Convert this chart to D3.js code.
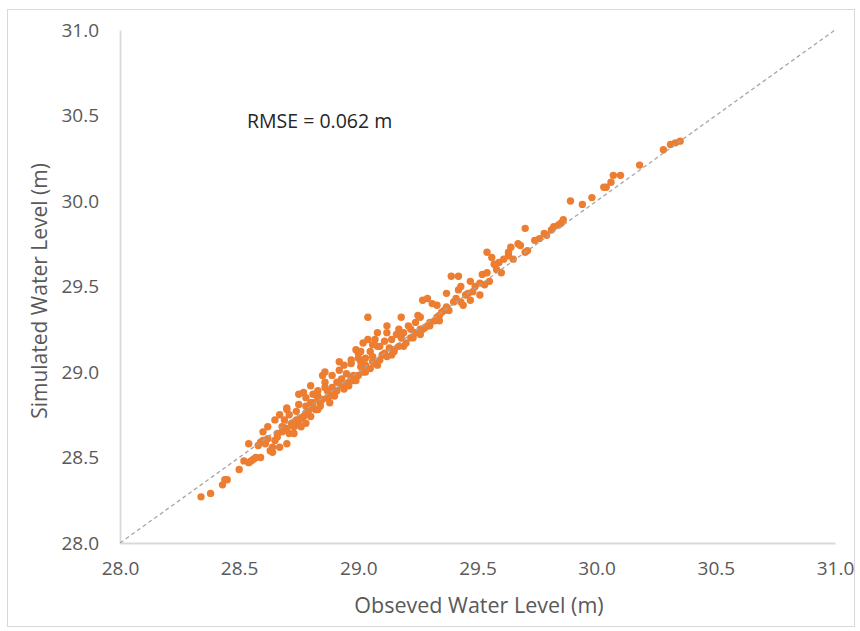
<!DOCTYPE html>
<html>
<head>
<meta charset="utf-8">
<script src="https://cdn.jsdelivr.net/npm/d3@7"></script>
<style>
  html, body { margin: 0; padding: 0; background: #ffffff; }
  svg { display: block; }
</style>
</head>
<body>
<svg id="chart" width="860" height="631"></svg>
<script>
// Observed (x) and simulated (y) water levels, metres
const observed = [
  28.34,28.38,28.43,28.44,28.45,28.50,28.54,28.55,28.56,28.57,28.59,28.54,28.59,28.60,28.63,28.64,28.64,28.67,28.70,28.62,
  28.62,28.66,28.68,28.70,28.71,28.73,28.70,28.71,28.74,28.76,28.78,28.79,28.81,28.83,28.75,28.78,28.77,28.78,28.78,28.80,
  28.83,28.83,28.84,28.85,28.86,28.87,28.87,28.89,28.89,28.90,28.91,28.92,28.92,28.93,28.93,28.95,28.96,28.97,28.98,28.99,
  29.00,29.01,29.02,29.01,29.03,29.03,29.05,29.06,29.06,29.07,29.08,29.09,29.10,29.11,29.12,29.12,29.13,29.14,29.17,29.18,
  29.19,29.22,29.24,29.24,29.27,29.28,29.29,28.82,28.80,28.75,28.76,28.88,29.04,29.18,29.25,29.08,29.27,29.29,29.30,29.32,
  29.31,29.33,29.33,29.35,29.36,29.37,29.37,29.39,29.40,29.41,29.42,29.42,29.43,29.44,29.45,29.46,29.47,29.49,29.51,29.52,
  29.53,29.54,29.55,29.54,29.56,29.59,29.60,29.63,29.63,29.64,29.67,29.68,29.70,29.71,29.70,29.78,29.79,29.82,29.84,29.85,
  29.89,29.94,29.98,30.03,30.04,30.06,30.07,30.10,30.18,30.28,30.31,30.33,30.35,29.26,28.70,28.65,28.67,28.69,28.72,28.74,
  28.75,28.68,28.65,28.60,28.75,28.80,28.81,28.86,28.89,28.94,28.97,29.01,29.04,29.06,29.11,29.14,29.16,29.19,29.21,29.22,
  29.57,29.61,29.74,29.76,29.81,29.86,28.96,28.99,29.03,29.08,29.15,29.26,29.34,29.47,29.51,28.66,28.69,28.72,28.73,28.77,
  28.79,28.81,28.84,28.85,28.88,28.90,28.91,28.94,28.95,28.98,29.00,29.02,29.05,29.07,29.09,29.12,29.15,29.17,29.20,29.23,
  29.26,29.30,29.34,29.38,29.43,29.48,29.58,29.65,28.58,28.52,28.61,28.86,28.97,29.00,28.83
];
const simulated = [
  28.27,28.29,28.34,28.37,28.37,28.43,28.47,28.48,28.49,28.50,28.50,28.58,28.59,28.60,28.54,28.53,28.56,28.56,28.58,28.68,
  28.61,28.64,28.68,28.67,28.64,28.64,28.78,28.75,28.72,28.73,28.76,28.80,28.82,28.78,28.69,28.70,28.88,28.85,28.80,28.82,
  28.89,28.85,28.82,28.98,28.94,28.89,28.85,28.87,28.91,28.88,28.94,29.06,29.01,28.96,28.92,28.99,28.94,28.97,28.98,29.13,
  29.11,29.03,29.17,29.06,29.08,29.04,29.12,29.09,29.06,29.19,29.23,29.15,29.10,29.11,29.27,29.23,29.14,29.10,29.25,29.20,
  29.15,29.20,29.29,29.23,29.25,29.26,29.27,28.78,28.74,28.72,28.68,28.82,29.32,29.32,29.33,29.15,29.42,29.43,29.29,29.30,
  29.40,29.39,29.32,29.35,29.36,29.46,29.38,29.56,29.41,29.43,29.56,29.48,29.50,29.39,29.45,29.46,29.53,29.50,29.52,29.57,
  29.51,29.58,29.53,29.70,29.67,29.64,29.58,29.68,29.70,29.73,29.75,29.74,29.70,29.71,29.84,29.81,29.80,29.85,29.86,29.87,
  30.00,29.98,30.02,30.08,30.08,30.11,30.15,30.15,30.21,30.30,30.33,30.34,30.35,29.32,28.79,28.72,28.75,28.72,28.69,28.77,
  28.81,28.65,28.60,28.65,28.87,28.92,28.87,29.00,28.98,29.04,29.07,29.12,29.19,29.16,29.18,29.19,29.22,29.23,29.27,29.25,
  29.63,29.66,29.77,29.78,29.83,29.89,28.92,28.95,29.00,29.04,29.13,29.25,29.30,29.42,29.45,28.62,28.66,28.70,28.68,28.74,
  28.77,28.79,28.80,28.84,28.86,28.86,28.89,28.90,28.93,28.95,28.98,29.00,29.02,29.05,29.07,29.09,29.12,29.15,29.17,29.20,
  29.22,29.27,29.33,29.36,29.41,29.47,29.60,29.66,28.57,28.48,28.58,28.91,29.05,29.08,28.86
];
const tickValues = [28.0, 28.5, 29.0, 29.5, 30.0, 30.5, 31.0];
const xTitle = "Obseved Water Level (m)";
const yTitle = "Simulated Water Level (m)";
const note = "RMSE = 0.062 m";

const svg = d3.select("#chart");
const plotLeft = 120, plotRight = 835, plotTop = 30, plotBottom = 543;
const font = "'Open Sans', Lato, sans-serif";
const textColor = "#595959";

// chart border
svg.append("rect")
  .attr("x", 7.5).attr("y", 9.5)
  .attr("width", 847).attr("height", 617)
  .attr("fill", "#ffffff")
  .attr("stroke", "#d9d9d9").attr("stroke-width", 1);

const x = d3.scaleLinear().domain([28, 31]).range([plotLeft, plotRight]);
const y = d3.scaleLinear().domain([28, 31]).range([plotBottom, plotTop]);

// axes
const xAxis = svg.append("g").attr("transform", `translate(0,${plotBottom})`)
  .call(d3.axisBottom(x).tickValues(tickValues).tickFormat(d3.format(".1f")).tickSize(0).tickPadding(19));
const yAxis = svg.append("g").attr("transform", `translate(${plotLeft},0)`)
  .call(d3.axisLeft(y).tickValues(tickValues).tickFormat(d3.format(".1f")).tickSize(0).tickPadding(21));

[xAxis, yAxis].forEach(g => {
  g.select(".domain").attr("stroke", "#d9d9d9").attr("stroke-width", 1.8);
  g.selectAll("text").attr("fill", textColor).style("font-family", font).style("font-size", "19px");
});

// points
const pts = observed.map((o, i) => ({ o, s: simulated[i] }));
svg.append("g").selectAll("circle").data(pts).join("circle")
  .attr("cx", d => x(d.o)).attr("cy", d => y(d.s))
  .attr("r", 3.7)
  .attr("fill", "#ed7d31");

// 1:1 line
svg.append("line")
  .attr("x1", x(28)).attr("y1", y(28))
  .attr("x2", x(31)).attr("y2", y(31))
  .attr("stroke", "#a6a6a6").attr("stroke-width", 1.3)
  .attr("stroke-dasharray", "4,3");

// titles
svg.append("text")
  .attr("x", 479).attr("y", 613)
  .attr("text-anchor", "middle")
  .attr("fill", textColor).style("font-family", font).style("font-size", "21.5px")
  .text(xTitle);
svg.append("text")
  .attr("transform", `translate(47,291) rotate(-90)`)
  .attr("text-anchor", "middle")
  .attr("fill", textColor).style("font-family", font).style("font-size", "21px")
  .text(yTitle);

svg.append("text")
  .attr("x", 247).attr("y", 128)
  .attr("fill", "#262626").style("font-family", font).style("font-size", "19.5px")
  .text(note);
</script>
</body>
</html>
